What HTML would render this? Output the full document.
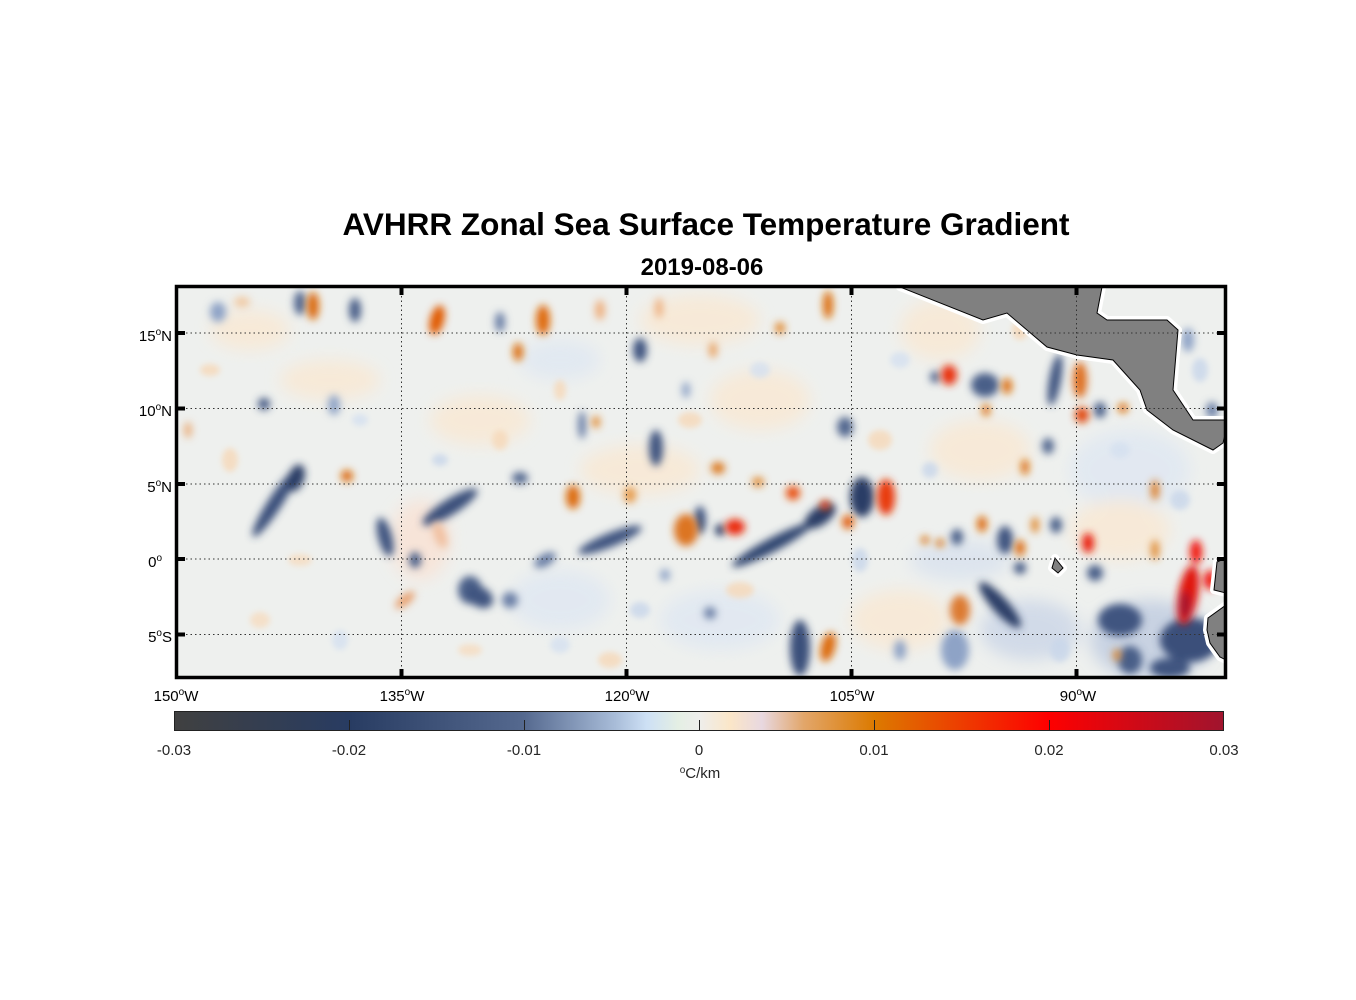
<!DOCTYPE html>
<html><head><meta charset="utf-8"><style>
body{margin:0;background:#fff;}
svg{display:block;font-family:"Liberation Sans",sans-serif;}
</style></head><body>
<svg width="1356" height="1000" viewBox="0 0 1356 1000" xmlns="http://www.w3.org/2000/svg">
<defs>
<filter id="b" x="-50%" y="-50%" width="200%" height="200%"><feGaussianBlur stdDeviation="4"/></filter>
<filter id="b2" x="-50%" y="-50%" width="200%" height="200%"><feGaussianBlur stdDeviation="8"/></filter>
<filter id="b3" x="-50%" y="-50%" width="200%" height="200%"><feGaussianBlur stdDeviation="3"/></filter>
<clipPath id="c"><rect x="177" y="287" width="1048" height="390"/></clipPath>
<linearGradient id="cb" x1="0" x2="1" y1="0" y2="0">
<stop offset="0" stop-color="#404040"/><stop offset=".167" stop-color="#283c62"/>
<stop offset=".333" stop-color="#55698f"/><stop offset=".42" stop-color="#a8bcd8"/>
<stop offset=".45" stop-color="#cde0f5"/><stop offset=".48" stop-color="#e4efe4"/>
<stop offset=".5" stop-color="#eeeeec"/><stop offset=".53" stop-color="#fbe6c8"/>
<stop offset=".56" stop-color="#e8d8e0"/><stop offset=".6" stop-color="#e2a66a"/>
<stop offset=".667" stop-color="#dc7a00"/><stop offset=".833" stop-color="#fe0000"/>
<stop offset="1" stop-color="#a0142e"/>
</linearGradient>
</defs>
<text x="706" y="235" font-size="31.5" font-weight="bold" text-anchor="middle">AVHRR Zonal Sea Surface Temperature Gradient</text>
<text x="702" y="275" font-size="24" font-weight="bold" text-anchor="middle">2019-08-06</text>

<g clip-path="url(#c)">
<rect x="170" y="280" width="1070" height="410" fill="#eef0ee"/>
<g filter="url(#b2)" opacity="0.7">
<ellipse cx="250" cy="330" rx="40" ry="20" fill="#fbe7cf"/>
<ellipse cx="480" cy="420" rx="50" ry="25" fill="#fbe7cf"/>
<ellipse cx="560" cy="360" rx="40" ry="20" fill="#dde6f3"/>
<ellipse cx="700" cy="320" rx="60" ry="25" fill="#fbe7cf"/>
<ellipse cx="760" cy="400" rx="50" ry="30" fill="#fbe7cf"/>
<ellipse cx="940" cy="330" rx="40" ry="30" fill="#fbe7cf"/>
<ellipse cx="980" cy="450" rx="50" ry="30" fill="#fbe7cf"/>
<ellipse cx="1130" cy="470" rx="60" ry="40" fill="#dde6f3"/>
<ellipse cx="1120" cy="530" rx="50" ry="30" fill="#fbe7cf"/>
<ellipse cx="720" cy="620" rx="60" ry="30" fill="#dde6f3"/>
<ellipse cx="900" cy="620" rx="50" ry="30" fill="#fbe7cf"/>
<ellipse cx="420" cy="540" rx="30" ry="40" fill="#fbe0d0"/>
<ellipse cx="560" cy="600" rx="50" ry="30" fill="#dde6f3"/>
<ellipse cx="1150" cy="640" rx="60" ry="40" fill="#b8c6de"/>
<ellipse cx="1030" cy="630" rx="50" ry="30" fill="#c6d2e6"/>
<ellipse cx="960" cy="560" rx="50" ry="20" fill="#d6e0ee"/>
<ellipse cx="330" cy="380" rx="50" ry="20" fill="#fbe7cf"/>
<ellipse cx="640" cy="470" rx="60" ry="25" fill="#fbe7cf"/>
</g>
<g filter="url(#b3)" opacity="0.8">
<ellipse cx="210" cy="370" rx="10" ry="6" fill="#f6d8b8"/>
<ellipse cx="230" cy="460" rx="8" ry="12" fill="#f6d8b8"/>
<ellipse cx="300" cy="560" rx="12" ry="6" fill="#f6dcc0"/>
<ellipse cx="360" cy="420" rx="8" ry="6" fill="#d4e0f0"/>
<ellipse cx="260" cy="620" rx="10" ry="8" fill="#f6dcc0"/>
<ellipse cx="340" cy="640" rx="8" ry="10" fill="#d4e0f0"/>
<ellipse cx="470" cy="650" rx="12" ry="6" fill="#f6dcc0"/>
<ellipse cx="560" cy="645" rx="10" ry="8" fill="#d4e0f0"/>
<ellipse cx="500" cy="440" rx="8" ry="10" fill="#f6d8b8"/>
<ellipse cx="560" cy="390" rx="6" ry="10" fill="#f6d8b8"/>
<ellipse cx="690" cy="420" rx="12" ry="8" fill="#f6d8b8"/>
<ellipse cx="740" cy="590" rx="14" ry="8" fill="#f6d8b8"/>
<ellipse cx="760" cy="370" rx="10" ry="8" fill="#d4e0f0"/>
<ellipse cx="880" cy="440" rx="12" ry="10" fill="#f6d8b8"/>
<ellipse cx="900" cy="360" rx="10" ry="8" fill="#d4e0f0"/>
<ellipse cx="1020" cy="330" rx="8" ry="10" fill="#f6d8b8"/>
<ellipse cx="1120" cy="450" rx="10" ry="8" fill="#d4e0f0"/>
<ellipse cx="1180" cy="500" rx="10" ry="10" fill="#c8d6ea"/>
<ellipse cx="1140" cy="340" rx="8" ry="8" fill="#f6d8b8"/>
<ellipse cx="1200" cy="370" rx="8" ry="12" fill="#c8d6ea"/>
<ellipse cx="640" cy="610" rx="10" ry="8" fill="#c8d6ea"/>
<ellipse cx="610" cy="660" rx="12" ry="8" fill="#f6d8b8"/>
<ellipse cx="860" cy="560" rx="8" ry="12" fill="#c8d6ea"/>
<ellipse cx="930" cy="470" rx="8" ry="8" fill="#c8d6ea"/>
<ellipse cx="1060" cy="650" rx="10" ry="12" fill="#c8d6ea"/>
<ellipse cx="440" cy="460" rx="8" ry="6" fill="#c8d6ea"/>
</g>
<g filter="url(#b)">
<ellipse cx="275" cy="503" rx="7" ry="40" transform="rotate(33 275 503)" fill="#3a4f7a"/>
<ellipse cx="296" cy="478" rx="8" ry="14" transform="rotate(20 296 478)" fill="#2c3e66"/>
<ellipse cx="385" cy="537" rx="7" ry="20" transform="rotate(-15 385 537)" fill="#3f5480"/>
<ellipse cx="450" cy="507" rx="32" ry="8" transform="rotate(-32 450 507)" fill="#3a4f7a"/>
<ellipse cx="470" cy="590" rx="12" ry="14" fill="#4a5f88"/>
<ellipse cx="415" cy="560" rx="6" ry="8" fill="#4a5f88"/>
<ellipse cx="300" cy="303" rx="6" ry="12" fill="#52688f"/>
<ellipse cx="355" cy="310" rx="6" ry="12" fill="#4a5f88"/>
<ellipse cx="264" cy="404" rx="6" ry="6" fill="#3f5480"/>
<ellipse cx="218" cy="312" rx="8" ry="10" fill="#8ea3c6"/>
<ellipse cx="334" cy="405" rx="6" ry="10" fill="#8ea3c6"/>
<ellipse cx="582" cy="425" rx="4" ry="14" fill="#6a7fa6"/>
<ellipse cx="640" cy="350" rx="7" ry="12" fill="#3f5480"/>
<ellipse cx="656" cy="448" rx="7" ry="18" fill="#3f5480"/>
<ellipse cx="610" cy="540" rx="34" ry="7" transform="rotate(-22 610 540)" fill="#3f5480"/>
<ellipse cx="700" cy="520" rx="6" ry="14" fill="#3f5480"/>
<ellipse cx="720" cy="530" rx="5" ry="6" fill="#2c3e66"/>
<ellipse cx="772" cy="545" rx="45" ry="7" transform="rotate(-28 772 545)" fill="#324671"/>
<ellipse cx="820" cy="516" rx="18" ry="9" transform="rotate(-35 820 516)" fill="#2c3e66"/>
<ellipse cx="862" cy="497" rx="12" ry="20" fill="#2c3e66"/>
<ellipse cx="845" cy="427" rx="8" ry="10" fill="#52688f"/>
<ellipse cx="800" cy="648" rx="10" ry="28" fill="#3a4f7a"/>
<ellipse cx="1000" cy="605" rx="30" ry="8" transform="rotate(48 1000 605)" fill="#2c3e66"/>
<ellipse cx="1055" cy="380" rx="6" ry="26" transform="rotate(10 1055 380)" fill="#3f5480"/>
<ellipse cx="985" cy="385" rx="14" ry="12" fill="#4a5f88"/>
<ellipse cx="935" cy="377" rx="5" ry="6" fill="#52688f"/>
<ellipse cx="1100" cy="410" rx="6" ry="8" fill="#4a5f88"/>
<ellipse cx="1048" cy="446" rx="6" ry="8" fill="#52688f"/>
<ellipse cx="1190" cy="640" rx="30" ry="22" fill="#3a4f7a"/>
<ellipse cx="1120" cy="620" rx="22" ry="16" fill="#3f5480"/>
<ellipse cx="1095" cy="573" rx="8" ry="8" fill="#4a5f88"/>
<ellipse cx="957" cy="537" rx="6" ry="8" fill="#4a5f88"/>
<ellipse cx="1005" cy="540" rx="8" ry="14" fill="#3f5480"/>
<ellipse cx="1020" cy="568" rx="6" ry="6" fill="#3f5480"/>
<ellipse cx="1056" cy="525" rx="6" ry="8" fill="#4a5f88"/>
<ellipse cx="955" cy="650" rx="14" ry="20" fill="#8ea3c6"/>
<ellipse cx="1130" cy="660" rx="12" ry="14" fill="#4a5f88"/>
<ellipse cx="1170" cy="668" rx="20" ry="10" fill="#3f5480"/>
<ellipse cx="1212" cy="410" rx="6" ry="8" fill="#6a7fa6"/>
<ellipse cx="1188" cy="340" rx="6" ry="12" fill="#8ea3c6"/>
<ellipse cx="500" cy="322" rx="5" ry="10" fill="#6a7fa6"/>
<ellipse cx="520" cy="478" rx="8" ry="6" fill="#52688f"/>
<ellipse cx="480" cy="597" rx="14" ry="10" transform="rotate(30 480 597)" fill="#3f5480"/>
<ellipse cx="510" cy="600" rx="8" ry="8" fill="#6a7fa6"/>
<ellipse cx="545" cy="560" rx="12" ry="6" transform="rotate(-30 545 560)" fill="#6a7fa6"/>
<ellipse cx="665" cy="575" rx="5" ry="6" fill="#8ea3c6"/>
<ellipse cx="710" cy="613" rx="6" ry="6" fill="#6a7fa6"/>
<ellipse cx="686" cy="390" rx="4" ry="8" fill="#8ea3c6"/>
<ellipse cx="900" cy="650" rx="6" ry="10" fill="#8ea3c6"/>
</g>
<g filter="url(#b)">
<ellipse cx="313" cy="306" rx="6" ry="14" fill="#da6a0a"/>
<ellipse cx="437" cy="320" rx="7" ry="15" transform="rotate(15 437 320)" fill="#e05a06"/>
<ellipse cx="543" cy="320" rx="7" ry="15" fill="#de6a10"/>
<ellipse cx="518" cy="352" rx="5" ry="9" fill="#dc7010"/>
<ellipse cx="347" cy="476" rx="6" ry="6" fill="#dc6c0a"/>
<ellipse cx="573" cy="497" rx="7" ry="12" fill="#dc6c0a"/>
<ellipse cx="440" cy="535" rx="6" ry="14" transform="rotate(-20 440 535)" fill="#f0c0a0"/>
<ellipse cx="630" cy="495" rx="6" ry="8" fill="#e69a4a"/>
<ellipse cx="686" cy="530" rx="12" ry="16" fill="#dc7420"/>
<ellipse cx="735" cy="527" rx="10" ry="8" fill="#ea2a08"/>
<ellipse cx="718" cy="468" rx="7" ry="6" fill="#dc7a20"/>
<ellipse cx="758" cy="482" rx="6" ry="5" fill="#e08a30"/>
<ellipse cx="793" cy="493" rx="7" ry="7" fill="#e8500a"/>
<ellipse cx="825" cy="505" rx="5" ry="5" fill="#e84010"/>
<ellipse cx="848" cy="522" rx="6" ry="7" fill="#e0600a"/>
<ellipse cx="828" cy="647" rx="7" ry="15" transform="rotate(15 828 647)" fill="#dc6c0a"/>
<ellipse cx="828" cy="305" rx="5" ry="14" fill="#dc7010"/>
<ellipse cx="780" cy="328" rx="5" ry="6" fill="#e08a30"/>
<ellipse cx="713" cy="350" rx="4" ry="8" fill="#e8a060"/>
<ellipse cx="886" cy="497" rx="9" ry="18" fill="#e83a08"/>
<ellipse cx="949" cy="375" rx="8" ry="10" fill="#e83010"/>
<ellipse cx="1082" cy="415" rx="7" ry="8" fill="#e04a0a"/>
<ellipse cx="1080" cy="380" rx="7" ry="18" fill="#de7020"/>
<ellipse cx="1007" cy="386" rx="5" ry="8" fill="#dc7010"/>
<ellipse cx="986" cy="410" rx="4" ry="6" fill="#dc7010"/>
<ellipse cx="1123" cy="408" rx="5" ry="5" fill="#dc7010"/>
<ellipse cx="1088" cy="543" rx="6" ry="10" fill="#e82010"/>
<ellipse cx="1155" cy="490" rx="4" ry="10" fill="#dc7a20"/>
<ellipse cx="1188" cy="595" rx="10" ry="30" transform="rotate(10 1188 595)" fill="#e0140a"/>
<ellipse cx="1185" cy="605" rx="5" ry="14" fill="#a0142e"/>
<ellipse cx="1196" cy="552" rx="6" ry="12" fill="#f01808"/>
<ellipse cx="1210" cy="580" rx="6" ry="10" fill="#f01808"/>
<ellipse cx="960" cy="610" rx="10" ry="15" fill="#dc7a30"/>
<ellipse cx="1020" cy="548" rx="5" ry="8" fill="#dc6c0a"/>
<ellipse cx="982" cy="524" rx="5" ry="8" fill="#dc6c0a"/>
<ellipse cx="1035" cy="525" rx="4" ry="8" fill="#e08a30"/>
<ellipse cx="1155" cy="550" rx="4" ry="10" fill="#e08a30"/>
<ellipse cx="940" cy="543" rx="4" ry="4" fill="#dc7010"/>
<ellipse cx="925" cy="540" rx="4" ry="4" fill="#dc7010"/>
<ellipse cx="1117" cy="655" rx="4" ry="6" fill="#e08a30"/>
<ellipse cx="600" cy="310" rx="5" ry="10" fill="#eeb080"/>
<ellipse cx="405" cy="600" rx="12" ry="5" transform="rotate(-40 405 600)" fill="#e8a070"/>
<ellipse cx="242" cy="302" rx="8" ry="5" fill="#f0c8a0"/>
<ellipse cx="188" cy="430" rx="4" ry="8" fill="#eab080"/>
<ellipse cx="596" cy="422" rx="4" ry="6" fill="#e08a30"/>
<ellipse cx="659" cy="308" rx="4" ry="10" fill="#eeb080"/>
<ellipse cx="1025" cy="467" rx="4" ry="8" fill="#dc7010"/>
</g>
<g stroke="#fff" stroke-width="8" stroke-linejoin="round" fill="#fff">
<polygon points="900,287 983,320 1007,313 1047,347 1077,355 1113,360 1140,390 1147,410 1173,430 1213,450 1223,443 1225,435 1226,420 1193,420 1173,390 1178,330 1167,320 1107,320 1097,313 1102,287"/>
<polygon points="1226,558 1217,562 1214,590 1226,593"/>
<polygon points="1226,605 1208,618 1207,630 1210,643 1220,657 1226,660"/>
<polygon points="1055,558 1063,568 1058,573 1052,568"/>
</g>
<g stroke="#000" stroke-width="1" fill="#808080">
<polygon points="900,287 983,320 1007,313 1047,347 1077,355 1113,360 1140,390 1147,410 1173,430 1213,450 1223,443 1225,435 1226,420 1193,420 1173,390 1178,330 1167,320 1107,320 1097,313 1102,287"/>
<polygon points="1226,558 1217,562 1214,590 1226,593"/>
<polygon points="1226,605 1208,618 1207,630 1210,643 1220,657 1226,660"/>
<polygon points="1055,558 1063,568 1058,573 1052,568"/>
</g>
<g stroke="#333" stroke-width="1" stroke-dasharray="1.5,3">
<line x1="177" x2="1225" y1="333" y2="333"/><line x1="177" x2="1225" y1="408.5" y2="408.5"/>
<line x1="177" x2="1225" y1="484" y2="484"/><line x1="177" x2="1225" y1="559" y2="559"/>
<line x1="177" x2="1225" y1="634.5" y2="634.5"/>
<line y1="287" y2="677" x1="401.5" x2="401.5"/><line y1="287" y2="677" x1="626.5" x2="626.5"/>
<line y1="287" y2="677" x1="851.5" x2="851.5"/><line y1="287" y2="677" x1="1076.5" x2="1076.5"/>
</g>
</g>
<rect x="176.5" y="286.5" width="1049" height="391" fill="none" stroke="#000" stroke-width="3.5"/>
<g stroke="#000" stroke-width="4">
<line x1="177" x2="185" y1="333" y2="333"/><line x1="177" x2="185" y1="408.5" y2="408.5"/><line x1="177" x2="185" y1="484" y2="484"/><line x1="177" x2="185" y1="559" y2="559"/><line x1="177" x2="185" y1="634.5" y2="634.5"/>
<line x1="1217" x2="1225" y1="333" y2="333"/><line x1="1217" x2="1225" y1="408.5" y2="408.5"/><line x1="1217" x2="1225" y1="484" y2="484"/><line x1="1217" x2="1225" y1="559" y2="559"/><line x1="1217" x2="1225" y1="634.5" y2="634.5"/>
<line y1="287" y2="295" x1="401.5" x2="401.5"/><line y1="287" y2="295" x1="626.5" x2="626.5"/><line y1="287" y2="295" x1="851.5" x2="851.5"/><line y1="287" y2="295" x1="1076.5" x2="1076.5"/>
<line y1="669" y2="677" x1="401.5" x2="401.5"/><line y1="669" y2="677" x1="626.5" x2="626.5"/><line y1="669" y2="677" x1="851.5" x2="851.5"/><line y1="669" y2="677" x1="1076.5" x2="1076.5"/>
</g>
<g font-size="15" fill="#000" text-anchor="end">
<text x="172" y="341">15<tspan font-size="10" dy="-6">o</tspan><tspan dy="6">N</tspan></text>
<text x="172" y="416">10<tspan font-size="10" dy="-6">o</tspan><tspan dy="6">N</tspan></text>
<text x="172" y="492">5<tspan font-size="10" dy="-6">o</tspan><tspan dy="6">N</tspan></text>
<text x="162" y="567">0<tspan font-size="10" dy="-6">o</tspan></text>
<text x="172" y="642">5<tspan font-size="10" dy="-6">o</tspan><tspan dy="6">S</tspan></text>
</g>
<g font-size="15" fill="#000" text-anchor="middle">
<text x="176" y="701">150<tspan font-size="10" dy="-6">o</tspan><tspan dy="6">W</tspan></text>
<text x="402" y="701">135<tspan font-size="10" dy="-6">o</tspan><tspan dy="6">W</tspan></text>
<text x="627" y="701">120<tspan font-size="10" dy="-6">o</tspan><tspan dy="6">W</tspan></text>
<text x="852" y="701">105<tspan font-size="10" dy="-6">o</tspan><tspan dy="6">W</tspan></text>
<text x="1078" y="701">90<tspan font-size="10" dy="-6">o</tspan><tspan dy="6">W</tspan></text>
</g>
<rect x="174.5" y="711.5" width="1049" height="19" fill="url(#cb)" stroke="#222" stroke-width="1"/>
<g stroke="#222" stroke-width="1">
<line x1="349.5" x2="349.5" y1="720" y2="730"/><line x1="524.5" x2="524.5" y1="720" y2="730"/><line x1="699.5" x2="699.5" y1="720" y2="730"/><line x1="874.5" x2="874.5" y1="720" y2="730"/><line x1="1049.5" x2="1049.5" y1="720" y2="730"/>
</g>
<g font-size="15" fill="#262626" text-anchor="middle">
<text x="174" y="755">-0.03</text><text x="349" y="755">-0.02</text><text x="524" y="755">-0.01</text>
<text x="699" y="755">0</text><text x="874" y="755">0.01</text><text x="1049" y="755">0.02</text><text x="1224" y="755">0.03</text>
<text x="700" y="778"><tspan font-size="10" dy="-5">o</tspan><tspan dy="5">C/km</tspan></text>
</g>
</svg>
</body></html>
